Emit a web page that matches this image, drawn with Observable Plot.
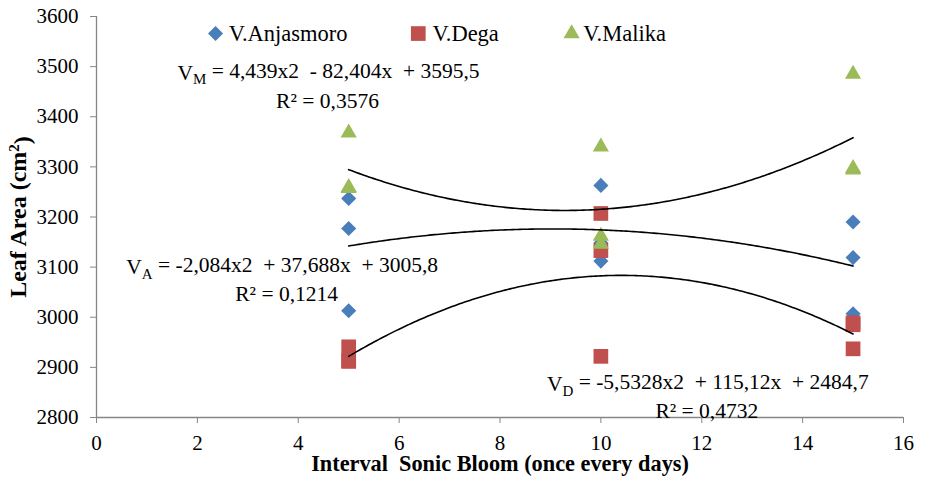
<!DOCTYPE html>
<html>
<head>
<meta charset="utf-8">
<script src="https://cdn.jsdelivr.net/npm/d3@7"></script>
<script src="https://cdn.jsdelivr.net/npm/@observablehq/plot@0.6"></script>
<style>
  html, body { margin: 0; padding: 0; background: white; }
  svg text { white-space: pre; font-family: 'Liberation Serif', 'Times New Roman', serif !important; }
</style>
</head>
<body>
<div id="chart"></div>
<script>
// ---- data ----
const varieties = ["V.Anjasmoro", "V.Dega", "V.Malika"];
const colors = ["#4A7EBB", "#C0504D", "#9BBB59"];
const symbols = ["diamond2", "square", "triangle"];
const intervals = [5, 5, 5, 10, 10, 10, 15, 15, 15];
const anjasmoro = [3237, 3177, 3013, 3263, 3148, 3112, 3190, 3119, 3007];
const dega = [2941, 2913, 2912, 3207, 3133, 2922, 2989, 2985, 2937];
const malika = [3368, 3257, 3259, 3340, 3162, 3146, 3485, 3297, 3294];
// quadratic trendline coefficients (a, b, c) as printed on the chart
const coefA = [-2.084, 37.688, 3005.8];
const coefD = [-5.5328, 115.12, 2484.7];
const coefM = [4.439, -82.404, 3595.5];
const eqA = "V_A = -2,084x2  + 37,688x  + 3005,8";
const eqD = "V_D = -5,5328x2  + 115,12x  + 2484,7";
const eqM = "V_M = 4,439x2  - 82,404x  + 3595,5";
const r2A = "R² = 0,1214";
const r2D = "R² = 0,4732";
const r2M = "R² = 0,3576";
const xTicks = [0, 2, 4, 6, 8, 10, 12, 14, 16];
const yTicks = [2800, 2900, 3000, 3100, 3200, 3300, 3400, 3500, 3600];
const xTitle = "Interval  Sonic Bloom (once every days)";
const yTitle = "Leaf Area (cm^2)";

const seriesValues = [anjasmoro, dega, malika];
const points = seriesValues.flatMap((vals, s) =>
  vals.map((v, i) => ({variety: varieties[s], x: intervals[i], y: v, s})));

const fit = (c) => d3.range(5, 15.0001, 0.05).map(x => ({x, y: c[0] * x * x + c[1] * x + c[2]}));

const serif = "'Liberation Serif', 'Times New Roman', serif";
const dotR = [6.8, 8.3, 6.0];
const EQ = 21.5;

const plot = Plot.plot({
  width: 927,
  height: 478,
  marginLeft: 96,
  marginRight: 24,
  marginTop: 16,
  marginBottom: 61,
  style: {fontFamily: serif, fontSize: "21px", background: "white", color: "black"},
  x: {domain: [0, 16]},
  y: {domain: [2800, 3600]},
  marks: [
    Plot.axisY(yTicks, {tickSize: 6, tickPadding: 12, stroke: "#868686", fill: "black", label: null, fontSize: 21, tickFormat: d => String(d)}),
    Plot.axisX(xTicks, {tickSize: 6, tickPadding: 12, stroke: "#868686", fill: "black", label: null, fontSize: 21, tickFormat: d => String(d)}),
    Plot.ruleX([0], {stroke: "#868686", strokeWidth: 1.3}),
    Plot.ruleY([2800], {stroke: "#868686", strokeWidth: 1.3}),
    ...[0, 1, 2].map(s => Plot.dot(points.filter(d => d.s === s), {
      x: "x", y: "y", symbol: () => symbols[s], fill: colors[s], r: dotR[s]
    })),
    Plot.line(fit(coefA), {x: "x", y: "y", stroke: "black", strokeWidth: 1.6}),
    Plot.line(fit(coefD), {x: "x", y: "y", stroke: "black", strokeWidth: 1.6}),
    Plot.line(fit(coefM), {x: "x", y: "y", stroke: "black", strokeWidth: 1.6}),
    // legend (inside plot area)
    ...[0, 1, 2].map(s => Plot.dot([varieties[s]], {
      x: [2.36, 6.38, 9.42][s], y: 3566, symbol: () => symbols[s], fill: colors[s], r: dotR[s]
    })),
    ...[0, 1, 2].map(s => Plot.text([varieties[s]], {
      x: [2.62, 6.66, 9.65][s], y: 3566, text: d => d, textAnchor: "start", fontSize: 22.5
    })),
    // equations
    Plot.text([eqM], {x: 4.6, y: 3488, text: d => d, fontSize: EQ}),
    Plot.text([r2M], {x: 4.58, y: 3432, text: d => d, fontSize: EQ}),
    Plot.text([eqA], {x: 3.68, y: 3100, text: d => d, fontSize: EQ}),
    Plot.text([r2A], {x: 3.77, y: 3046, text: d => d, fontSize: EQ}),
    Plot.text([eqD], {x: 12.12, y: 2866, text: d => d, fontSize: EQ}),
    Plot.text([r2D], {x: 12.1, y: 2812, text: d => d, fontSize: EQ}),
    // axis titles
    Plot.text([yTitle], {frameAnchor: "left", dx: -78, dy: 0, rotate: -90, textAnchor: "middle", lineAnchor: "middle", text: d => d, fontWeight: "bold", fontSize: 24}),
    Plot.text([xTitle], {frameAnchor: "bottom", dy: 46, textAnchor: "middle", lineAnchor: "middle", text: d => d, fontWeight: "bold", fontSize: 22.3})
  ]
});

// subscripts / superscripts
d3.select(plot).selectAll("text").each(function () {
  const t = this.textContent;
  const sel = d3.select(this);
  let m = t.match(/^V_(\w)(.*)$/);
  if (m) {
    sel.text(null);
    sel.append("tspan").text("V");
    sel.append("tspan").attr("dy", "0.3em").attr("font-size", "15px").text(m[1]);
    sel.append("tspan").attr("dy", "-0.3em").text(m[2]);
    return;
  }
  m = t.match(/^(.*)\^(\w)(.*)$/);
  if (m) {
    sel.text(null);
    sel.append("tspan").text(m[1]);
    sel.append("tspan").attr("dy", "-0.45em").attr("font-size", "15px").text(m[2]);
    sel.append("tspan").attr("dy", "0.45em").text(m[3]);
  }
});

document.getElementById("chart").appendChild(plot);
</script>
</body>
</html>
